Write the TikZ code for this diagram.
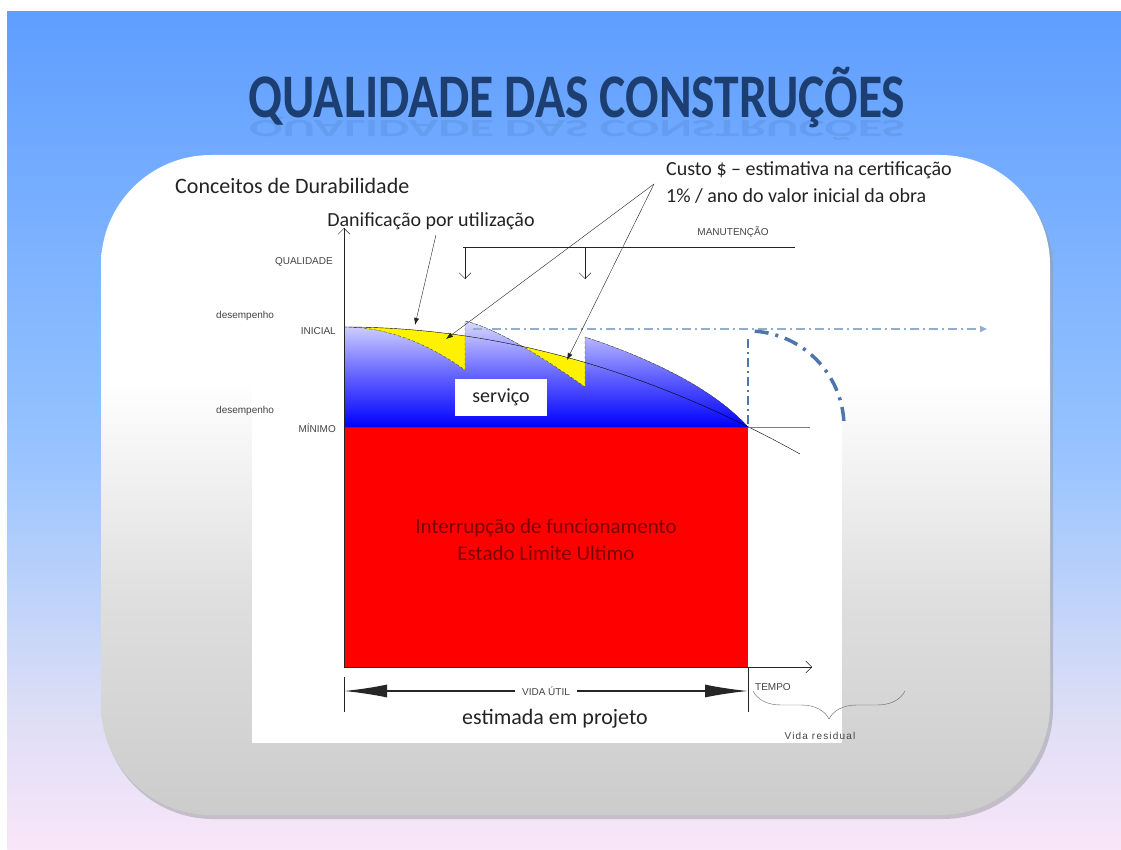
\documentclass[tikz,border=0pt]{standalone}
\usepackage{fontspec}
\setmainfont{Carlito}
\newfontfamily\labelfont{Liberation Sans}
\usetikzlibrary{arrows.meta,decorations.pathreplacing}

\definecolor{titleblue}{RGB}{28,62,112}
\definecolor{bgtop}{RGB}{95,158,255}
\definecolor{bgmid}{RGB}{150,195,255}
\definecolor{bglow}{RGB}{218,221,246}
\definecolor{bgbot}{RGB}{249,230,248}
\definecolor{panelmid}{RGB}{222,222,222}
\definecolor{panelbot}{RGB}{204,204,204}
\definecolor{dashblue}{RGB}{78,118,172}
\definecolor{textgray}{RGB}{35,35,35}
\definecolor{redtext}{RGB}{125,0,0}

\pgfdeclareverticalshading{slidebg}{100bp}{color(0bp)=(bgbot); color(25bp)=(bgbot); color(34bp)=(bglow); color(49bp)=(bgmid); color(75bp)=(bgtop); color(100bp)=(bgtop)}
\pgfdeclareverticalshading{panelbg}{100bp}{color(0bp)=(panelbot); color(25bp)=(panelbot); color(41bp)=(panelmid); color(58bp)=(white); color(100bp)=(white)}

\begin{document}
\begin{tikzpicture}[x=1pt,y=-1pt,
  txt/.style={font=\fontsize{20}{24}\selectfont, text=textgray, inner sep=0pt},
  lbl/.style={font=\labelfont\fontsize{10}{12}\selectfont, text=textgray!85, inner sep=1pt},
  ptr/.style={draw=textgray, thin, -{Latex[length=7pt,width=5pt]}},
  guideline/.style={draw=dashblue, dash pattern=on 9pt off 4pt on 2pt off 4pt},
  sawtooth/.style={draw=black!70, densely dashed, thin}]

\useasboundingbox (0,0) rectangle (1121,850);
\fill[white] (0,0) rectangle (1121,850);
\shade[shading=slidebg] (7,12) rectangle (1121,850);

% panel
\fill[black!40, opacity=0.5, rounded corners=110pt] (103,159) rectangle (1053,819);
\shade[shading=panelbg, rounded corners=110pt] (101,155) rectangle (1050,815);
\fill[white] (252,200) rectangle (842,743);

% title
\node[font=\fontsize{62}{62}\selectfont\bfseries, text=titleblue, anchor=base, inner sep=0pt] (title) at (577,118) {\scalebox{0.8}[1]{QUALIDADE DAS CONSTRUÇÕES}};
\node[font=\fontsize{62}{62}\selectfont\bfseries, text=titleblue, opacity=0.1, anchor=base, inner sep=0pt] (titlerefl) at (577,121) {\scalebox{0.8}[-0.4]{QUALIDADE DAS CONSTRUÇÕES}};

\node[txt, font=\fontsize{22}{26}\selectfont, anchor=west] (conceitos) at (175,186) {Conceitos de Durabilidade};
\node[txt, anchor=west, align=left, font=\fontsize{20}{27}\selectfont] (custo) at (666,183) {Custo \$ – estimativa na certificação\\1\% / ano do valor inicial da obra};
\node[txt] (danif) at (431,221) {Danificação por utilização};

% axis labels
\node[lbl] (manut) at (733,232) {MANUTENÇÃO};
\node[lbl, anchor=east] (qual) at (334,262) {QUALIDADE};
\node[lbl, anchor=west] (desI) at (215,316) {desempenho};
\node[lbl, anchor=east] (inicial) at (337,331) {INICIAL};
\node[lbl, anchor=west] (desM) at (215,411) {desempenho};
\node[lbl, anchor=east] (minimo) at (337,428) {MÍNIMO};

% limit state
\fill[red] (344,427) rectangle (748,667);
\node[txt, text=redtext, font=\fontsize{21}{27}\selectfont, align=center] (ruptura) at (546,540) {Interrupção de funcionamento\\Estado Limite Ultimo};

% service zone
\fill[top color=blue!15, bottom color=blue, middle color=blue!60]
(344,427) -- (344,327) .. controls (384.3,327) and (424.7,341.3) .. (465,370)
-- (465,321) .. controls (495,328) and (540,355) .. (585,387)
-- (585,337) .. controls (640,355) and (710,385) .. (748,427) -- cycle;

\begin{scope}
\clip (344,327) .. controls (384.3,327) and (424.7,341.3) .. (465,370) -- (465,250) -- (344,250) -- cycle;
\fill[yellow] (344,327) .. controls (496,327) and (648,369.3) .. (800,454) -- (800,520) -- (344,520) -- cycle;
\end{scope}
\begin{scope}
\clip (465,321) .. controls (495,328) and (540,355) .. (585,387) -- (585,250) -- (465,250) -- cycle;
\fill[yellow] (344,327) .. controls (496,327) and (648,369.3) .. (800,454) -- (800,520) -- (344,520) -- cycle;
\end{scope}

\draw[sawtooth] (344,327) .. controls (384.3,327) and (424.7,341.3) .. (465,370)
-- (465,321) .. controls (495,328) and (540,355) .. (585,387)
-- (585,337) .. controls (640,355) and (710,385) .. (748,427);
\draw[black, thin] (344,327) .. controls (496,327) and (648,369.3) .. (800,454);

\node[txt, fill=white, minimum width=92pt, minimum height=37pt] (servico) at (501,397) {serviço};

% axes
\coordinate (origin) at (344,667);
\coordinate (ytop) at (344,228);
\coordinate (xend) at (812,667);
\draw[textgray, -{Straight Barb[length=6pt]}] (origin) -- (ytop);
\draw[textgray, -{Straight Barb[length=6pt]}] (origin) -- (xend);
\draw[gray] (748,427) -- (810,427);

% residual life guides
\draw[guideline, line width=2pt, draw=dashblue!60, -{Triangle[length=7pt,width=6pt]}] (473,329) -- (987,329);
\draw[guideline, line width=2.5pt] (748,424) -- (748,336);
\draw[guideline, line width=3.5pt, dash pattern=on 14pt off 7pt on 3pt off 7pt] (754.7,331.2) arc[start angle=86, end angle=3, radius=96pt];

% maintenance
\coordinate (manL) at (463,247);
\coordinate (manR) at (795,247);
\coordinate (man1) at (465,279);
\coordinate (man2) at (585,279);
\draw[textgray] (manL) -- (manR);
\draw[textgray, -{Straight Barb[length=6pt]}] (manL -| man1) -- (man1);
\draw[textgray, -{Straight Barb[length=6pt]}] (manL -| man2) -- (man2);

% pointers
\coordinate (danTip) at (415,325);
\coordinate (custoApex) at (654,184);
\coordinate (costTip1) at (446,339);
\coordinate (costTip2) at (567,360);
\draw[ptr] ([xshift=5pt,yshift=-5pt]danif.south) -- (danTip);
\draw[ptr] (custoApex) -- (costTip1);
\draw[ptr] (custoApex) -- (costTip2);

% service life
\coordinate (vuL) at (344,691);
\coordinate (vuR) at (748,691);
\draw[textgray] (344,677) -- (344,712);
\draw[textgray] (748,667) -- (748,712);
\node[lbl, fill=white, inner xsep=7pt] (vidautil) at (546,691) {VIDA ÚTIL};
\draw[black!85, line width=1.5pt, -{Latex[length=43pt,width=13pt]}] (vidautil) -- (vuL);
\draw[black!85, line width=1.5pt, -{Latex[length=43pt,width=13pt]}] (vidautil) -- (vuR);
\node[lbl, anchor=west] (tempo) at (754,687) {TEMPO};
\node[txt, font=\fontsize{22}{26}\selectfont] (estimada) at (555,719) {estimada em projeto};

\coordinate (braceL) at (753,691);
\coordinate (braceR) at (905,691);
\draw[textgray!70, decorate, decoration={brace, mirror, amplitude=28pt}] (braceL) -- (braceR);
\node[lbl, font=\labelfont\fontsize{10}{12}\selectfont\addfontfeature{LetterSpace=12}] (residual) at (820,736) {Vida residual};
\end{tikzpicture}
\end{document}
